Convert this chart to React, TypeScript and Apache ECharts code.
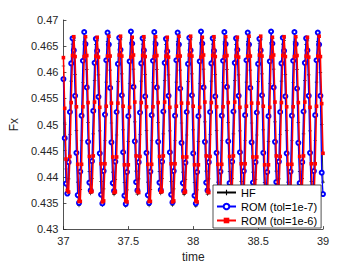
import React, { useEffect, useRef } from 'react';
import * as echarts from 'echarts';

// sample grid: t = 37.00, 37.01, ..., 39.00
const tStart = 37;
const tStep = 0.01;

const xTicks = [37, 37.5, 38, 38.5, 39];
const yTicks = [0.43, 0.435, 0.44, 0.445, 0.45, 0.455, 0.46, 0.465, 0.47];

const seriesNames = ['HF', 'ROM (tol=1e-7)', 'ROM (tol=1e-6)'];

const hfFx = [
  0.4612, 0.4503, 0.4415, 0.4367, 0.4396, 0.4481, 0.4583, 0.4654, 0.4661, 0.4596, 0.4489, 0.4390, 0.4345, 0.4376, 0.4469, 0.4580, 0.4658, 0.4666,
  0.4605, 0.4504, 0.4410, 0.4368, 0.4397, 0.4482, 0.4584, 0.4653, 0.4660, 0.4595, 0.4488, 0.4391, 0.4346, 0.4377, 0.4470, 0.4581, 0.4659, 0.4667,
  0.4604, 0.4503, 0.4409, 0.4366, 0.4395, 0.4480, 0.4582, 0.4655, 0.4662, 0.4597, 0.4490, 0.4389, 0.4344, 0.4375, 0.4468, 0.4579, 0.4657, 0.4665,
  0.4606, 0.4505, 0.4411, 0.4367, 0.4396, 0.4481, 0.4583, 0.4654, 0.4661, 0.4596, 0.4489, 0.4390, 0.4345, 0.4376, 0.4469, 0.4580, 0.4658, 0.4666,
  0.4605, 0.4504, 0.4410, 0.4368, 0.4397, 0.4482, 0.4584, 0.4653, 0.4660, 0.4595, 0.4488, 0.4391, 0.4346, 0.4377, 0.4470, 0.4581, 0.4659, 0.4667,
  0.4604, 0.4503, 0.4409, 0.4366, 0.4395, 0.4480, 0.4582, 0.4655, 0.4662, 0.4597, 0.4490, 0.4389, 0.4344, 0.4375, 0.4468, 0.4579, 0.4657, 0.4665,
  0.4606, 0.4505, 0.4411, 0.4367, 0.4396, 0.4481, 0.4583, 0.4654, 0.4661, 0.4596, 0.4489, 0.4390, 0.4345, 0.4376, 0.4469, 0.4580, 0.4658, 0.4666,
  0.4605, 0.4504, 0.4410, 0.4368, 0.4397, 0.4482, 0.4584, 0.4653, 0.4660, 0.4595, 0.4488, 0.4391, 0.4346, 0.4377, 0.4470, 0.4581, 0.4659, 0.4667,
  0.4604, 0.4503, 0.4409, 0.4366, 0.4395, 0.4480, 0.4582, 0.4655, 0.4662, 0.4597, 0.4490, 0.4389, 0.4344, 0.4375, 0.4468, 0.4579, 0.4657, 0.4665,
  0.4606, 0.4505, 0.4411, 0.4367, 0.4396, 0.4481, 0.4583, 0.4654, 0.4661, 0.4596, 0.4489, 0.4390, 0.4345, 0.4376, 0.4469, 0.4580, 0.4658, 0.4666,
  0.4605, 0.4504, 0.4410, 0.4368, 0.4397, 0.4482, 0.4584, 0.4653, 0.4660, 0.4595, 0.4488, 0.4391, 0.4346, 0.4377, 0.4470, 0.4581, 0.4659, 0.4667,
  0.4600, 0.4500, 0.4390,
];

const rom7Fx = [
  0.4587, 0.4474, 0.4387, 0.4368, 0.4428, 0.4524, 0.4617, 0.4665, 0.4642, 0.4555, 0.4446, 0.4365, 0.4350, 0.4410, 0.4517, 0.4622, 0.4677, 0.4654,
  0.4571, 0.4467, 0.4389, 0.4374, 0.4430, 0.4526, 0.4618, 0.4664, 0.4641, 0.4553, 0.4445, 0.4366, 0.4349, 0.4411, 0.4519, 0.4623, 0.4676, 0.4653,
  0.4570, 0.4466, 0.4388, 0.4373, 0.4429, 0.4524, 0.4616, 0.4666, 0.4643, 0.4556, 0.4447, 0.4364, 0.4348, 0.4409, 0.4516, 0.4621, 0.4678, 0.4655,
  0.4572, 0.4468, 0.4390, 0.4374, 0.4428, 0.4523, 0.4617, 0.4665, 0.4642, 0.4554, 0.4446, 0.4365, 0.4350, 0.4410, 0.4518, 0.4622, 0.4677, 0.4654,
  0.4571, 0.4467, 0.4389, 0.4375, 0.4429, 0.4525, 0.4618, 0.4664, 0.4640, 0.4555, 0.4447, 0.4366, 0.4351, 0.4411, 0.4517, 0.4623, 0.4676, 0.4653,
  0.4569, 0.4465, 0.4388, 0.4373, 0.4427, 0.4524, 0.4616, 0.4666, 0.4642, 0.4556, 0.4445, 0.4364, 0.4349, 0.4409, 0.4516, 0.4621, 0.4678, 0.4655,
  0.4571, 0.4467, 0.4389, 0.4374, 0.4428, 0.4524, 0.4617, 0.4665, 0.4641, 0.4554, 0.4446, 0.4365, 0.4350, 0.4410, 0.4517, 0.4622, 0.4677, 0.4654,
  0.4572, 0.4468, 0.4388, 0.4373, 0.4429, 0.4525, 0.4618, 0.4665, 0.4643, 0.4555, 0.4447, 0.4366, 0.4350, 0.4411, 0.4518, 0.4623, 0.4676, 0.4653,
  0.4570, 0.4466, 0.4389, 0.4374, 0.4428, 0.4523, 0.4616, 0.4664, 0.4642, 0.4556, 0.4446, 0.4364, 0.4349, 0.4409, 0.4516, 0.4621, 0.4678, 0.4655,
  0.4571, 0.4467, 0.4390, 0.4375, 0.4429, 0.4524, 0.4617, 0.4666, 0.4641, 0.4554, 0.4445, 0.4365, 0.4351, 0.4410, 0.4517, 0.4622, 0.4677, 0.4654,
  0.4569, 0.4465, 0.4388, 0.4373, 0.4428, 0.4525, 0.4618, 0.4665, 0.4642, 0.4555, 0.4446, 0.4366, 0.4350, 0.4411, 0.4518, 0.4623, 0.4676, 0.4653,
  0.4555, 0.4408, 0.4367,
];

const rom6Fx = [
  0.4628, 0.4531, 0.4434, 0.4374, 0.4371, 0.4439, 0.4542, 0.4632, 0.4668, 0.4630, 0.4534, 0.4424, 0.4353, 0.4353, 0.4424, 0.4534, 0.4630, 0.4668,
  0.4632, 0.4542, 0.4439, 0.4371, 0.4372, 0.4440, 0.4543, 0.4631, 0.4667, 0.4629, 0.4533, 0.4425, 0.4352, 0.4354, 0.4425, 0.4535, 0.4631, 0.4669,
  0.4631, 0.4541, 0.4438, 0.4370, 0.4371, 0.4438, 0.4541, 0.4633, 0.4669, 0.4631, 0.4535, 0.4423, 0.4354, 0.4352, 0.4423, 0.4533, 0.4629, 0.4667,
  0.4633, 0.4543, 0.4440, 0.4372, 0.4370, 0.4439, 0.4542, 0.4632, 0.4668, 0.4630, 0.4534, 0.4424, 0.4353, 0.4353, 0.4424, 0.4534, 0.4630, 0.4668,
  0.4632, 0.4542, 0.4439, 0.4371, 0.4372, 0.4440, 0.4543, 0.4631, 0.4667, 0.4629, 0.4533, 0.4425, 0.4352, 0.4354, 0.4425, 0.4535, 0.4631, 0.4669,
  0.4631, 0.4541, 0.4438, 0.4370, 0.4371, 0.4438, 0.4541, 0.4633, 0.4669, 0.4631, 0.4535, 0.4423, 0.4354, 0.4352, 0.4423, 0.4533, 0.4629, 0.4667,
  0.4633, 0.4543, 0.4440, 0.4372, 0.4370, 0.4439, 0.4542, 0.4632, 0.4668, 0.4630, 0.4534, 0.4424, 0.4353, 0.4353, 0.4424, 0.4534, 0.4630, 0.4668,
  0.4632, 0.4542, 0.4439, 0.4371, 0.4372, 0.4440, 0.4543, 0.4631, 0.4667, 0.4629, 0.4533, 0.4425, 0.4352, 0.4354, 0.4425, 0.4535, 0.4631, 0.4669,
  0.4631, 0.4541, 0.4438, 0.4370, 0.4371, 0.4438, 0.4541, 0.4633, 0.4669, 0.4631, 0.4535, 0.4423, 0.4354, 0.4352, 0.4423, 0.4533, 0.4629, 0.4667,
  0.4633, 0.4543, 0.4440, 0.4372, 0.4370, 0.4439, 0.4542, 0.4632, 0.4668, 0.4630, 0.4534, 0.4424, 0.4353, 0.4353, 0.4424, 0.4534, 0.4630, 0.4668,
  0.4632, 0.4542, 0.4439, 0.4371, 0.4372, 0.4440, 0.4543, 0.4631, 0.4667, 0.4629, 0.4533, 0.4425, 0.4352, 0.4354, 0.4425, 0.4535, 0.4631, 0.4669,
  0.4630, 0.4540, 0.4445,
];

const times = hfFx.map((_, i) => +(tStart + i * tStep).toFixed(2));
const pairs = (vals: number[]) => vals.map((v, i) => [times[i], v]);

const FONT = '"Liberation Sans", Arial, Helvetica, sans-serif';
const AX = '#262626';
const PLUS = 'path://M4,0h2v4h4v2h-4v4h-2v-4h-4v-2h4z';

export default function App() {
  const ref = useRef<HTMLDivElement>(null);
  useEffect(() => {
    if (!ref.current) return;
    const chart = echarts.init(ref.current, null, { renderer: 'svg' });
    chart.setOption({
      animation: false,
      backgroundColor: '#fff',
      textStyle: { fontFamily: FONT },
      grid: { left: 50, right: 34, top: 20, bottom: 33, containLabel: false },
      xAxis: {
        type: 'value',
        min: xTicks[0],
        max: xTicks[xTicks.length - 1],
        interval: xTicks[1] - xTicks[0],
        name: 'time',
        nameLocation: 'middle',
        nameGap: 17,
        nameTextStyle: { fontSize: 12, color: AX, fontFamily: FONT },
        axisLine: { lineStyle: { color: AX, width: 0.8 } },
        axisTick: { inside: true, length: 3, lineStyle: { color: AX, width: 0.8 } },
        axisLabel: { fontSize: 11, color: AX, margin: 6, fontFamily: FONT, formatter: (v: number) => String(+v.toFixed(1)) },
        splitLine: { show: false },
      },
      yAxis: {
        type: 'value',
        min: yTicks[0],
        max: yTicks[yTicks.length - 1],
        interval: 0.005,
        name: 'Fx',
        nameLocation: 'middle',
        nameGap: 33,
        nameTextStyle: { fontSize: 12, color: AX, fontFamily: FONT },
        axisLine: { show: true, lineStyle: { color: AX, width: 0.8 } },
        axisTick: { show: true, inside: true, length: 3, lineStyle: { color: AX, width: 0.8 } },
        axisLabel: { fontSize: 11, color: AX, margin: 5, fontFamily: FONT, formatter: (v: number) => String(+v.toFixed(3)) },
        splitLine: { show: false },
      },
      legend: {
        orient: 'vertical',
        left: 213,
        top: 185,
        z: 50,
        backgroundColor: '#fff',
        borderColor: AX,
        borderWidth: 0.8,
        borderRadius: 0,
        padding: [2, 4, 2, 3],
        itemWidth: 19,
        itemHeight: 7,
        itemGap: 3,
        textStyle: { fontSize: 11, color: '#000', fontFamily: FONT },
        data: seriesNames,
      },
      series: [
        {
          name: seriesNames[0],
          type: 'line',
          data: pairs(hfFx),
          symbol: PLUS,
          symbolSize: 3.5,
          showAllSymbol: true,
          lineStyle: { color: '#000', width: 0.8 },
          itemStyle: { color: '#000' },
          z: 2,
        },
        {
          name: seriesNames[1],
          type: 'line',
          data: pairs(rom7Fx),
          symbol: 'emptyCircle',
          symbolSize: 4,
          showAllSymbol: true,
          lineStyle: { color: '#0000ff', width: 1.3 },
          itemStyle: { color: '#0000ff', borderWidth: 1.1 },
          z: 3,
        },
        {
          name: seriesNames[2],
          type: 'line',
          data: pairs(rom6Fx),
          symbol: 'rect',
          symbolSize: 3.6,
          showAllSymbol: true,
          lineStyle: { color: '#ff0000', width: 1.5 },
          itemStyle: { color: '#ff0000' },
          z: 4,
        },
      ],
    });
    return () => chart.dispose();
  }, []);
  return (
    <div
      ref={ref}
      style={{ position: 'fixed', left: 0, top: 0, width: 357, height: 268, background: '#fff' }}
    />
  );
}
